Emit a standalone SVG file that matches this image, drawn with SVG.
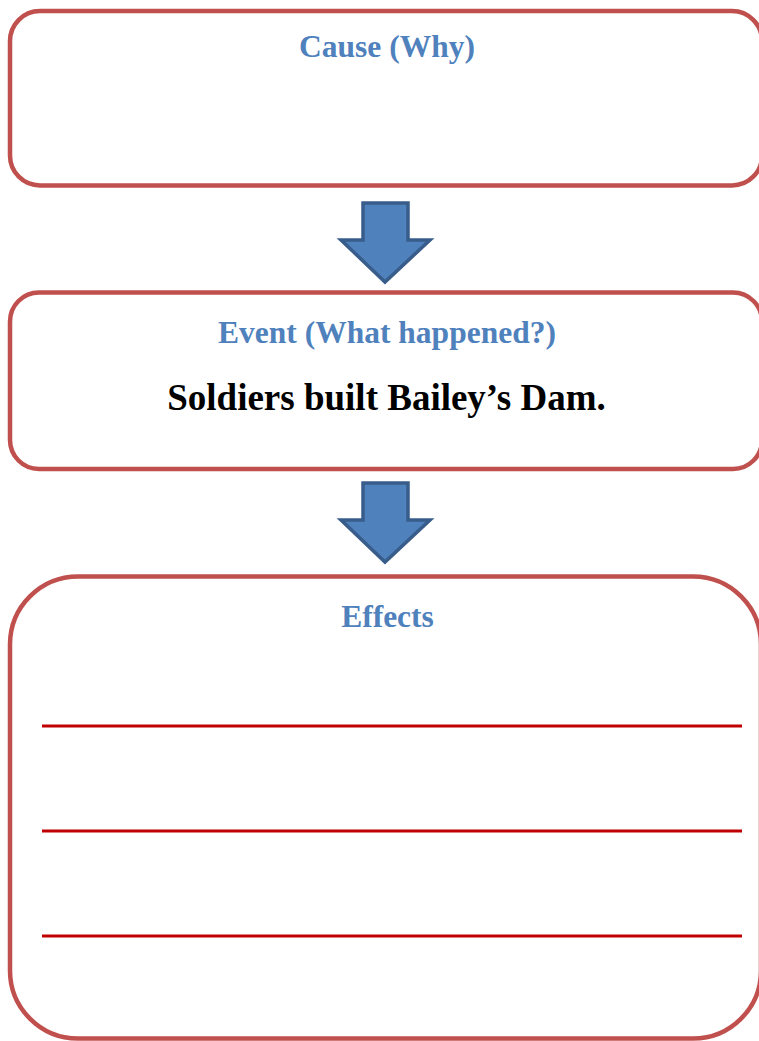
<svg xmlns="http://www.w3.org/2000/svg" width="759" height="1041" viewBox="0 0 759 1041">
<defs>
<style>
.box{fill:#FFFFFF;stroke:#C0504D;stroke-width:4.5}
.title{font-family:"Liberation Serif","Times New Roman",serif;font-weight:bold;font-size:31.5px;fill:#4F81BD;text-anchor:middle}
.body{font-family:"Liberation Serif","Times New Roman",serif;font-weight:bold;font-size:37px;fill:#000000;text-anchor:middle}
.arrow{fill:#4F81BD;stroke:#385D8A;stroke-width:3.5;stroke-linejoin:miter}
.rule{stroke:#C00000;stroke-width:3}
</style>
</defs>
<rect width="759" height="1041" fill="#FFFFFF"/>
<g id="cause">
<rect class="box" x="10" y="11" width="752" height="174.5" rx="30" ry="30"/>
<text class="title" x="387" y="57">Cause (Why)</text>
</g>
<g id="event">
<rect class="box" x="10" y="292.5" width="752" height="176.5" rx="29" ry="29"/>
<text class="title" x="387" y="343">Event (What happened?)</text>
<text class="body" x="386.5" y="410">Soldiers built Bailey’s Dam.</text>
</g>
<g id="effects">
<rect class="box" x="10" y="576.5" width="751" height="462" rx="68" ry="68"/>
<text class="title" x="387.5" y="627">Effects</text>
<line class="rule" x1="42" y1="726" x2="742" y2="726"/>
<line class="rule" x1="42" y1="831" x2="742" y2="831"/>
<line class="rule" x1="42" y1="936" x2="742" y2="936"/>
</g>
<g id="connectors">
<polygon class="arrow" points="363,203 408,203 408,240 430,240 385,282 341,240 363,240"/>
<polygon class="arrow" points="363,483 408,483 408,520 430,520 385,562 341,520 363,520"/>
</g>
</svg>
